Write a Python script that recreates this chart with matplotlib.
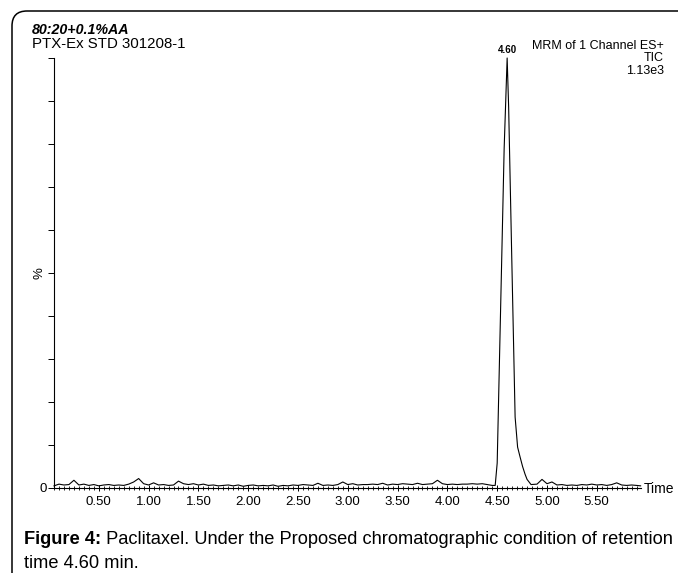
import numpy as np
import matplotlib
matplotlib.use("Agg")
import matplotlib.pyplot as plt
from matplotlib.patches import FancyBboxPatch
from matplotlib.ticker import MultipleLocator, FormatStrFormatter

plt.rcParams['font.family'] = ['Liberation Sans', 'DejaVu Sans']

# baseline before the peak, sampled every 0.05 min (values in %)
pre_times = np.round(np.arange(0.05, 4.451, 0.05), 2)
pre_values = [0.5, 0.9, 0.7, 0.8, 1.8, 0.7, 0.9, 0.6, 0.8, 0.5,
              0.7, 0.8, 0.6, 0.7, 0.6, 0.9, 1.4, 2.2, 1.0, 0.7,
              1.2, 0.7, 0.8, 0.6, 0.7, 1.6, 1.0, 0.8, 1.0, 0.7,
              0.9, 0.6, 0.7, 0.5, 0.6, 0.7, 0.5, 0.7, 0.4, 0.6,
              0.7, 0.5, 0.6, 0.5, 0.7, 0.4, 0.6, 0.5, 0.7, 0.6,
              0.8, 0.7, 0.6, 1.1, 0.6, 0.7, 0.6, 0.8, 1.4, 0.8,
              1.0, 0.7, 0.8, 0.8, 0.9, 0.8, 1.1, 0.7, 0.9, 0.8,
              1.0, 0.9, 0.8, 1.1, 0.8, 0.9, 1.0, 1.8, 1.0, 0.8,
              0.9, 0.8, 0.9, 0.9, 1.0, 0.9, 1.0, 0.8, 0.6]

# paclitaxel peak
peak_times = [4.48, 4.50, 4.55, 4.57, 4.60, 4.615, 4.645, 4.68, 4.705, 4.73, 4.755, 4.78, 4.80, 4.84]
peak_values = [0.6, 5.8, 58.0, 79.0, 100.0, 88.6, 55.0, 16.5, 9.5, 7.2, 5.0, 3.2, 2.0, 0.8]

# tail after the peak
post_times = [4.90, 4.95, 5.00, 5.05, 5.10, 5.15, 5.20, 5.25, 5.30, 5.35, 5.40,
              5.45, 5.50, 5.55, 5.60, 5.65, 5.70, 5.75, 5.80, 5.85, 5.90, 5.94]
post_values = [0.9, 2.0, 1.0, 1.4, 0.7, 0.8, 0.6, 0.7, 0.6, 0.8, 0.7,
               0.9, 0.7, 0.8, 0.6, 0.8, 1.2, 0.7, 0.6, 0.7, 0.6, 0.5]

times = np.concatenate([pre_times, peak_times, post_times])
values = np.concatenate([pre_values, peak_values, post_values])

W, H = 678, 573
fig = plt.figure(figsize=(W / 100, H / 100), dpi=100)
ax = fig.add_axes([54 / W, 1 - 488 / H, (640.6 - 54) / W, (488 - 58) / H])

ax.plot(times, values, color='black', lw=0.8, clip_on=False)
ax.set_xlim(0.05, 5.94)
ax.set_ylim(0, 100)

for s in ['top', 'right']:
    ax.spines[s].set_visible(False)
for s in ['left', 'bottom']:
    ax.spines[s].set_linewidth(0.8)

ax.xaxis.set_major_locator(MultipleLocator(0.5))
ax.xaxis.set_minor_locator(MultipleLocator(0.05))
ax.xaxis.set_major_formatter(FormatStrFormatter('%.2f'))
ax.tick_params(axis='x', which='major', direction='inout', length=5, width=0.7,
               labelsize=9.5, pad=3)
ax.tick_params(axis='x', which='minor', direction='inout', length=3, width=0.6)

ax.set_yticks(np.arange(0, 101, 10))
ax.set_yticklabels(['0'] + [''] * 10)
ax.tick_params(axis='y', direction='out', length=4, width=0.7, labelsize=9.5, pad=1)

ax.text(-0.024, 0.5, '%', transform=ax.transAxes, rotation=90,
        ha='center', va='center', fontsize=9.5)
ax.annotate('Time', xy=(1, 0), xycoords='axes fraction', xytext=(2, -1),
            textcoords='offset points', ha='left', va='center', fontsize=10)
ax.annotate('4.60', xy=(4.60, 100), xytext=(0, 2), textcoords='offset points',
            ha='center', va='bottom', fontsize=7, fontweight='bold')

fig.text(32 / W, 1 - 30.5 / H, '80:20+0.1%AA', fontsize=10.3, fontweight='bold',
         fontstyle='italic', ha='left', va='center')
fig.text(32 / W, 1 - 44 / H, 'PTX-Ex STD 301208-1', fontsize=10.8,
         ha='left', va='center')
fig.text(664 / W, 1 - 40 / H, 'MRM of 1 Channel ES+\nTIC\n1.13e3', fontsize=9,
         ha='right', va='top', multialignment='right', linespacing=1.05)

bold = fig.text(24 / W, 1 - 539 / H, 'Figure 4:', fontsize=13.15, fontweight='bold',
                ha='left', va='center')
ax.annotate(' Paclitaxel. Under the Proposed chromatographic condition of retention',
            xy=(1, 0.5), xycoords=bold, ha='left', va='center', fontsize=13.15,
            annotation_clip=False)
fig.text(24 / W, 1 - 563 / H, 'time 4.60 min.', fontsize=13.15, ha='left', va='center')

frame = FancyBboxPatch((0.12, -1.0), 10.0, 5.73 - 0.11 + 1.0,
                       boxstyle='round,pad=0,rounding_size=0.15',
                       transform=fig.dpi_scale_trans, fill=False,
                       edgecolor='black', lw=1.1)
fig.add_artist(frame)

fig.savefig('out.png', dpi=100)
